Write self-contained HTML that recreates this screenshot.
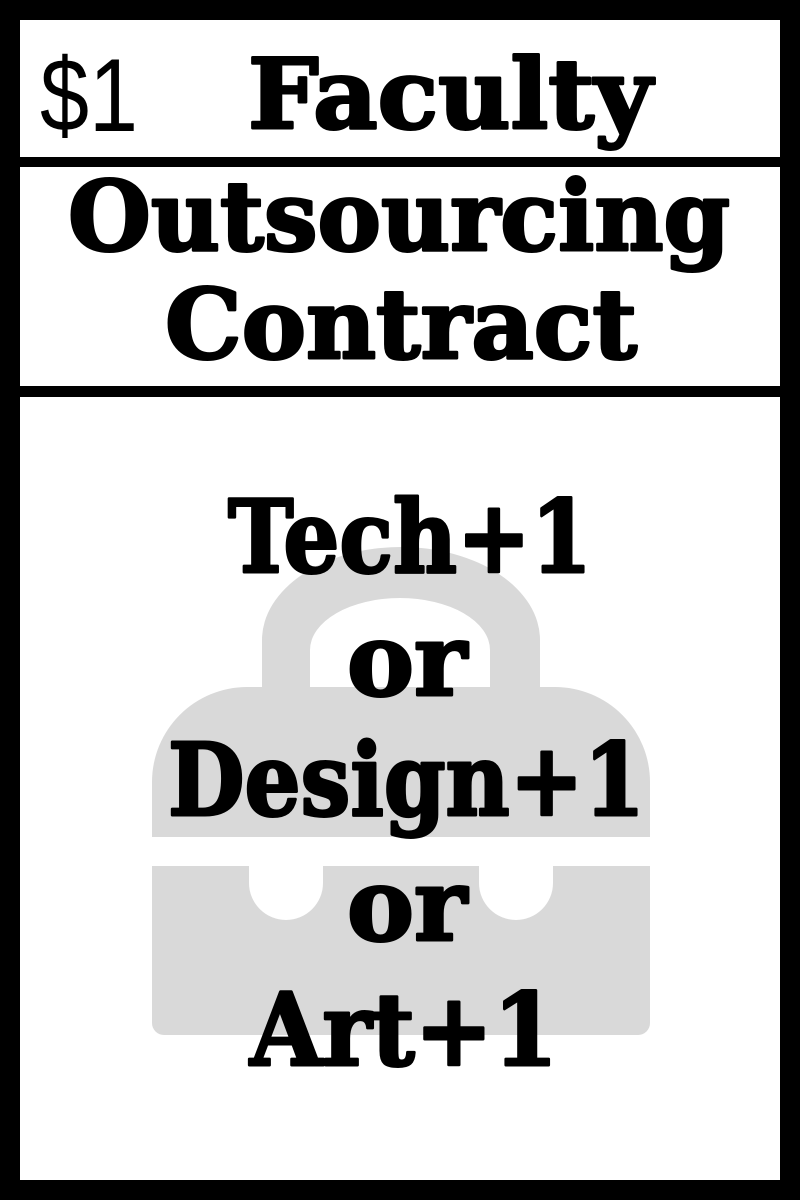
<!DOCTYPE html>
<html><head><meta charset="utf-8"><style>
html,body{margin:0;padding:0;background:#000;}
svg{display:block;}
text{font-family:"DejaVu Serif","Liberation Serif",serif;font-weight:bold;fill:#000;stroke:#000;stroke-width:3;stroke-linejoin:round;}
</style></head><body>
<svg width="800" height="1200" viewBox="0 0 800 1200">
<rect x="0" y="0" width="800" height="1200" fill="#000"/>
<rect x="20" y="20" width="760" height="137" fill="#fff"/>
<rect x="20" y="167" width="760" height="219" fill="#fff"/>
<rect x="20" y="397" width="760" height="783" fill="#fff"/>
<g fill="#d9d9d9">
<path d="M262 700 L262 640 A139 93 0 0 1 540 640 L540 700 L490 700 L490 650 A90 52 0 0 0 310 650 L310 700 Z"/>
<path d="M152 782 A95 95 0 0 1 247 687 L555 687 A95 95 0 0 1 650 782 L650 1023 A12 12 0 0 1 638 1035 L164 1035 A12 12 0 0 1 152 1023 Z"/>
</g>
<rect x="152" y="837" width="498" height="29" fill="#fff"/>
<path d="M249 837 L323 837 L323 883 A37 37 0 0 1 249 883 Z" fill="#fff"/>
<path d="M479 837 L553 837 L553 883 A37 37 0 0 1 479 883 Z" fill="#fff"/>
<text x="40" y="131" textLength="98" lengthAdjust="spacingAndGlyphs" style="font-family:'Liberation Sans',sans-serif;font-weight:normal;font-size:104px;stroke:none">$1</text>
<text x="248" y="128" textLength="404" lengthAdjust="spacingAndGlyphs" font-size="96">Faculty</text>
<text x="68" y="250" textLength="662" lengthAdjust="spacingAndGlyphs" font-size="96">Outsourcing</text>
<text x="165" y="358" textLength="472" lengthAdjust="spacingAndGlyphs" font-size="96">Contract</text>
<text x="228" y="572" textLength="364" lengthAdjust="spacingAndGlyphs" font-size="100">Tech+1</text>
<text x="347" y="695" textLength="120" lengthAdjust="spacingAndGlyphs" font-size="100">or</text>
<text x="168" y="815" textLength="477" lengthAdjust="spacingAndGlyphs" font-size="100">Design+1</text>
<text x="347" y="940" textLength="120" lengthAdjust="spacingAndGlyphs" font-size="100">or</text>
<text x="250" y="1065" textLength="308" lengthAdjust="spacingAndGlyphs" font-size="100">Art+1</text>
</svg>
</body></html>
